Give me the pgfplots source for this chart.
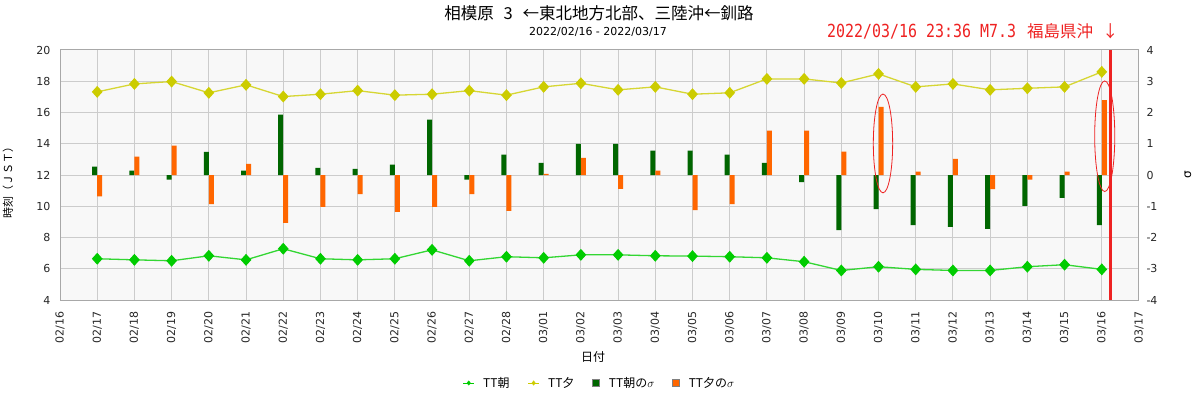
\documentclass[border=0pt]{standalone}
\usepackage{fontspec}
\setmainfont{DejaVu Sans}
\newfontfamily\cjk{Noto Sans CJK JP}
\newfontfamily\mono{DejaVu Sans Mono}
\usepackage{pgfplots}
\pgfplotsset{compat=1.18}
\usepackage{pgfplotstable}

\definecolor{gline}{HTML}{00CC00}
\definecolor{yline}{HTML}{CCCC00}
\definecolor{gbar}{HTML}{006600}
\definecolor{obar}{HTML}{FF6600}
\definecolor{ered}{HTML}{EE2222}
\definecolor{bgc}{HTML}{F8F8F8}
\definecolor{gridc}{HTML}{CCCCCC}
\definecolor{framec}{HTML}{A8A8A8}

\pgfplotstableread{
x asa yu sa sy
1 6.64 17.32 0.27 -0.68
2 6.57 17.83 0.14 0.59
3 6.51 17.98 -0.15 0.94
4 6.83 17.26 0.74 -0.93
5 6.57 17.77 0.14 0.36
6 7.28 17.02 1.93 -1.53
7 6.64 17.17 0.23 -1.02
8 6.57 17.40 0.20 -0.61
9 6.64 17.11 0.33 -1.18
10 7.21 17.17 1.77 -1.02
11 6.51 17.40 -0.15 -0.61
12 6.77 17.11 0.65 -1.15
13 6.70 17.64 0.39 0.04
14 6.89 17.87 1.00 0.55
15 6.89 17.45 1.00 -0.44
16 6.83 17.64 0.78 0.14
17 6.81 17.17 0.78 -1.12
18 6.77 17.26 0.65 -0.93
19 6.70 18.15 0.39 1.42
20 6.45 18.15 -0.23 1.42
21 5.89 17.89 -1.76 0.75
22 6.13 18.47 -1.09 2.18
23 5.96 17.64 -1.60 0.11
24 5.89 17.83 -1.66 0.52
25 5.89 17.45 -1.72 -0.45
26 6.13 17.55 -0.99 -0.15
27 6.26 17.64 -0.73 0.11
28 5.96 18.60 -1.60 2.40
}\data

\begin{document}
\begin{tikzpicture}[x=1pt,y=1pt]
\path[use as bounding box] (0,0) rectangle (1200,400);
\begin{axis}[
  at={(60pt,100pt)}, anchor=south west, scale only axis,
  width=1079pt, height=250pt,
  xmin=0, xmax=29, ymin=4, ymax=20,
  xtick={0,...,29},
  xticklabels={02/16,02/17,02/18,02/19,02/20,02/21,02/22,02/23,02/24,02/25,02/26,02/27,02/28,03/01,03/02,03/03,03/04,03/05,03/06,03/07,03/08,03/09,03/10,03/11,03/12,03/13,03/14,03/15,03/16,03/17},
  ytick={4,6,...,20},
  grid=major, major grid style={gridc, line width=1pt},
  axis background/.style={fill=bgc},
  axis line style={framec, line width=1pt},
  major tick length=0pt,
  tick label style={font=\fontsize{11}{13}\selectfont, color=black!85},
  /pgf/number format/assume math mode=true,
  x tick label style={rotate=90, anchor=east},
  xticklabel shift=8pt,
  yticklabel shift=6pt,
]
\addplot[gline!80, line width=1.3pt, mark=diamond*, mark size=5pt,
  mark options={fill=gline, draw=gline, xscale=1.2}] table[x=x,y=asa]{\data};
\addplot[yline!80, line width=1.3pt, mark=diamond*, mark size=5pt,
  mark options={fill=yline, draw=yline, xscale=1.2}] table[x=x,y=yu]{\data};
\end{axis}
\begin{axis}[
  at={(60pt,100pt)}, anchor=south west, scale only axis,
  width=1079pt, height=250pt,
  xmin=0, xmax=29, ymin=-4, ymax=4,
  axis x line=none, axis y line*=right,
  y axis line style={framec, line width=1pt},
  ytick={-4,...,4},
  major tick length=0pt,
  tick label style={font=\fontsize{11}{13}\selectfont, color=black!85},
  /pgf/number format/assume math mode=true,
  yticklabel style={anchor=west},
  yticklabel shift=4pt,
  legend style={at={(0.5,-0.332)}, anchor=center, draw=none, fill=none,
    legend columns=4, font=\cjk\fontsize{12}{14}\selectfont,
    /tikz/every even column/.append style={column sep=16pt}},
]
\addlegendimage{legend image code/.code={\draw[gline, line width=1pt] (0pt,0pt) -- (11pt,0pt); \fill[gline] (5.5pt,2.2pt) -- (7.2pt,0pt) -- (5.5pt,-2.2pt) -- (3.8pt,0pt) -- cycle; \path[draw=none, fill=none] (0pt,0pt) -- (18pt,0pt);}}
\addlegendentry{TT朝}
\addlegendimage{legend image code/.code={\draw[yline, line width=1pt] (0pt,0pt) -- (11pt,0pt); \fill[yline] (5.5pt,2.2pt) -- (7.2pt,0pt) -- (5.5pt,-2.2pt) -- (3.8pt,0pt) -- cycle; \path[draw=none, fill=none] (0pt,0pt) -- (18pt,0pt);}}
\addlegendentry{TT夕}
\addlegendimage{legend image code/.code={\draw[fill=gbar, draw=gray, line width=0.8pt] (0pt,-3.5pt) rectangle (7pt,3.5pt); \path[draw=none, fill=none] (0pt,0pt) -- (14pt,0pt);}}
\addlegendentry{TT朝の$\sigma$}
\addlegendimage{legend image code/.code={\draw[fill=obar, draw=gray, line width=0.8pt] (0pt,-3.5pt) rectangle (7pt,3.5pt); \path[draw=none, fill=none] (0pt,0pt) -- (14pt,0pt);}}
\addlegendentry{TT夕の$\sigma$}
\addplot[forget plot, ybar, bar width=5pt, bar shift=-2.5pt, fill=gbar, draw=none] table[x=x,y=sa]{\data};
\addplot[forget plot, ybar, bar width=5pt, bar shift=2.5pt, fill=obar, draw=none] table[x=x,y=sy]{\data};
\draw[ered, line width=0.8pt] (axis cs:22.12,1.01) ellipse [x radius=0.26, y radius=1.58];
\draw[ered, line width=0.8pt] (axis cs:28.08,1.24) ellipse [x radius=0.27, y radius=1.77];
\draw[ered, line width=3pt] (axis cs:28.23,-4) -- (axis cs:28.23,4.02);
\end{axis}
\node[font=\cjk\fontsize{16.5}{18}\selectfont] at (599,387) {相模原\hspace{0.6em}3\hspace{0.6em}←東北地方北部、三陸沖←釧路};
\node[font=\fontsize{11}{13}\selectfont] at (598,368) {2022/02/16 - 2022/03/17};
\node[text=ered, anchor=base west, inner sep=0pt] at (827,362) {\scalebox{0.83}[1]{\mono\fontsize{18}{20}\selectfont 2022/03/16 23:36 M7.3}\hspace{11pt}{\cjk\fontsize{16.5}{18}\selectfont 福島県沖\hspace{9pt}↓}};
\node[font=\cjk\fontsize{12}{14}\selectfont] at (593,43) {日付};
\node[font=\cjk\fontsize{11}{13}\selectfont, rotate=90] at (8,220) {時刻（ＪＳＴ）};
\node[font=\fontsize{12}{14}\selectfont, rotate=90] at (1188,225) {σ};
\end{tikzpicture}
\end{document}
